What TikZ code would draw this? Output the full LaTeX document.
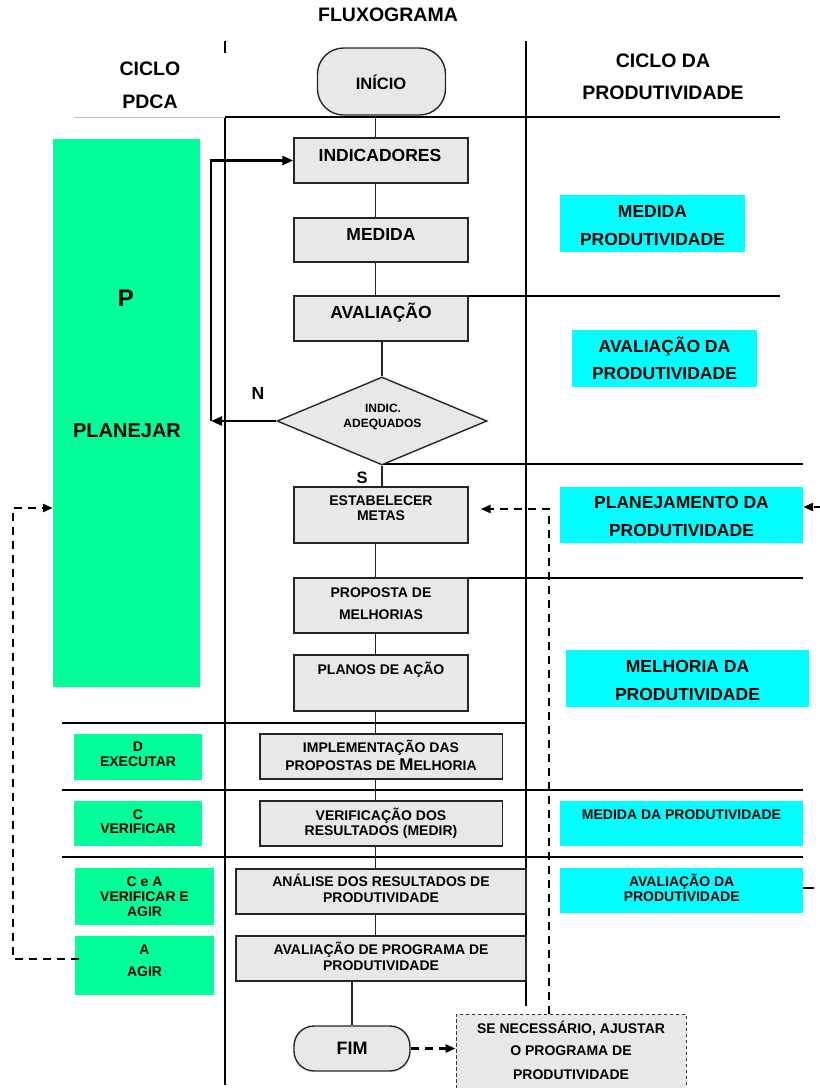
\documentclass[tikz,border=0pt]{standalone}
\usepackage{fontspec}
\setmainfont{Liberation Sans}
\usetikzlibrary{arrows.meta,shapes.geometric}
\definecolor{pgreen}{RGB}{0,255,153}
\definecolor{pcyan}{RGB}{0,255,255}
\definecolor{bgray}{RGB}{232,232,232}
\definecolor{lgray}{RGB}{190,190,190}
\tikzset{
 colline/.style={line width=1.3pt, draw=black},
 conn/.style={line width=1.3pt, draw=black!85},
 fbox/.style={draw=black!85, line width=1.4pt, fill=bgray, inner sep=0pt},
 gbox/.style={fill=pgreen, inner sep=0pt},
 cbox/.style={fill=pcyan, inner sep=0pt},
 txt/.style={inner sep=0pt, anchor=base, font=\bfseries\fontsize{#1}{#1}\selectfont, yshift={-0.344*#1pt}},
 txt/.default=14,
 boldloop/.style={line width=2.6pt, line join=miter, -{Triangle[length=11pt,width=9pt]}},
 dashline/.style={line width=2.4pt, dash pattern=on 8pt off 6pt, -{Triangle[length=10pt,width=8pt]}},
}
\begin{document}
\begin{tikzpicture}[x=1pt,y=-1pt]
\useasboundingbox (0,0) rectangle (820,1088);
% grid lines
\draw[colline] (225,41) -- (225,53);
\draw[colline] (225,117) -- (225,1085);
\draw[colline] (526,41) -- (526,1006);
\draw[lgray, line width=1pt] (74,117) -- (225,117);
\draw[colline] (225,117) -- (780,117);
\draw[colline] (468,296) -- (780,296);
\draw[colline] (382,464) -- (803,464);
\draw[colline] (468,578) -- (803,578);
\draw[colline] (62,723) -- (526,723);
\draw[colline] (62,790) -- (803,790);
\draw[colline] (62,857) -- (803,857);
% flow boxes
\node[fbox, rounded corners=26pt, minimum width=128pt, minimum height=67pt] (ini) at (381.5,81.5) {};
\node[fbox, minimum width=174pt, minimum height=45pt] (ind) at (381,160.5) {};
\node[fbox, minimum width=174pt, minimum height=44pt] (med) at (381,240) {};
\node[fbox, minimum width=174pt, minimum height=45pt] (ava) at (381,318.5) {};
\node[fbox, diamond, minimum width=210pt, minimum height=88pt] (dia) at (382,421) {};
\node[fbox, minimum width=174pt, minimum height=56pt] (est) at (381,515) {};
\node[fbox, minimum width=174pt, minimum height=55pt] (pro) at (381,605.5) {};
\node[fbox, minimum width=174pt, minimum height=56pt] (pla) at (381,683) {};
\node[fbox, minimum width=242.5pt, minimum height=45pt] (imp) at (381.25,756.5) {};
\node[fbox, minimum width=242.5pt, minimum height=45pt] (ver) at (381.25,823.5) {};
\node[fbox, minimum width=290pt, minimum height=45pt] (ana) at (381,891.5) {};
\node[fbox, minimum width=290pt, minimum height=45pt] (avp) at (381,958.5) {};
\node[fbox, rounded corners=20pt, minimum width=116pt, minimum height=45pt] (fim) at (352,1048.5) {};
\node[fbox, draw=black!80, line width=1pt, dash pattern=on 3.5pt off 2.5pt, minimum width=230pt, minimum height=81pt] (se) at (571,1054.5) {};
% green PDCA boxes
\node[gbox, minimum width=147pt, minimum height=548pt] (gP) at (126.5,413) {};
\node[gbox, minimum width=128pt, minimum height=46pt] (gD) at (138,757) {};
\node[gbox, minimum width=128pt, minimum height=45pt] (gC) at (138,823.5) {};
\node[gbox, minimum width=139pt, minimum height=57pt] (gCA) at (144.5,896.5) {};
\node[gbox, minimum width=139pt, minimum height=59pt] (gA) at (144.5,965.5) {};
% cyan boxes
\node[cbox, minimum width=185pt, minimum height=57pt] (cMed) at (652.5,223.5) {};
\node[cbox, minimum width=185pt, minimum height=57pt] (cAva) at (664.5,358.5) {};
\node[cbox, minimum width=243pt, minimum height=56pt] (cPla) at (681.5,515) {};
\node[cbox, minimum width=243pt, minimum height=57pt] (cMel) at (687.5,678.5) {};
\node[cbox, minimum width=243pt, minimum height=45pt] (cMed2) at (681.5,823.5) {};
\node[cbox, minimum width=243pt, minimum height=45pt] (cAva2) at (681.5,890.5) {};
% texts
\node[txt=19.5] (tTitle) at (388,14.5) {FLUXOGRAMA};
\node[txt=19.5] (tH1) at (150,69) {CICLO};
\node[txt=19.5] (tH2) at (150,102) {PDCA};
\node[txt=19.5] (tH3) at (663,61) {CICLO DA};
\node[txt=19.5] (tH4) at (663,93) {PRODUTIVIDADE};
\node[txt=16.5] (tIni) at (381,84) {INÍCIO};
\node[txt=17.5] (tInd) at (380,155.5) {INDICADORES};
\node[txt=17.5] (tMed) at (381,234.5) {MEDIDA};
\node[txt=17.5] (tAva) at (381,312.5) {AVALIAÇÃO};
\node[txt=17.5] (tN) at (258,393) {N};
\node[txt=16.5] (tS) at (362,477.5) {S};
\node[txt=12] (tDia1) at (383,408) {INDIC.};
\node[txt=12] (tDia2) at (382.5,423) {ADEQUADOS};
\node[txt] (tEst1) at (381,501) {ESTABELECER};
\node[txt] (tEst2) at (381,516) {METAS};
\node[txt] (tPro1) at (381,593) {PROPOSTA DE};
\node[txt] (tPro2) at (381,615) {MELHORIAS};
\node[txt] (tPla) at (381,670) {PLANOS DE AÇÃO};
\node[txt] (tImp1) at (381,748) {IMPLEMENTAÇÃO DAS};
\node[txt] (tImp2) at (381,766) {PROPOSTAS DE {\fontsize{17}{17}\selectfont M}ELHORIA};
\node[txt] (tVer1) at (381,816) {VERIFICAÇÃO DOS};
\node[txt] (tVer2) at (381,831) {RESULTADOS (MEDIR)};
\node[txt] (tAna1) at (381,882) {ANÁLISE DOS RESULTADOS DE};
\node[txt] (tAna2) at (381,898) {PRODUTIVIDADE};
\node[txt] (tAvp1) at (381,950) {AVALIAÇÃO DE PROGRAMA DE};
\node[txt] (tAvp2) at (381,966) {PRODUTIVIDADE};
\node[txt=18] (tFim) at (352,1048) {FIM};
\node[txt] (tSe1) at (571,1029) {SE NECESSÁRIO, AJUSTAR};
\node[txt] (tSe2) at (571,1051) {O PROGRAMA DE};
\node[txt] (tSe3) at (571,1075) {PRODUTIVIDADE};
\node[txt=24] (tP) at (126,298) {P};
\node[txt=20] (tPlan) at (127,431) {PLANEJAR};
\node[txt] (tD1) at (138,747) {D};
\node[txt] (tD2) at (138,762) {EXECUTAR};
\node[txt] (tC1) at (138,814.5) {C};
\node[txt] (tC2) at (138,829) {VERIFICAR};
\node[txt] (tCA1) at (144.5,882) {C e A};
\node[txt] (tCA2) at (144.5,897) {VERIFICAR E};
\node[txt] (tCA3) at (144.5,912) {AGIR};
\node[txt] (tA1) at (144.5,949.5) {A};
\node[txt] (tA2) at (144.5,972) {AGIR};
\node[txt=17.5] (tcM1) at (652.5,211) {MEDIDA};
\node[txt=17.5] (tcM2) at (652.5,239) {PRODUTIVIDADE};
\node[txt=17.5] (tcA1) at (664.5,346) {AVALIAÇÃO DA};
\node[txt=17.5] (tcA2) at (664.5,373) {PRODUTIVIDADE};
\node[txt=17.5] (tcP1) at (681.5,502) {PLANEJAMENTO DA};
\node[txt=17.5] (tcP2) at (681.5,530) {PRODUTIVIDADE};
\node[txt=17.5] (tcMe1) at (687.5,666.5) {MELHORIA DA};
\node[txt=17.5] (tcMe2) at (687.5,694) {PRODUTIVIDADE};
\node[txt] (tcMd) at (681.5,815) {MEDIDA DA PRODUTIVIDADE};
\node[txt] (tcAv1) at (681.7,882) {AVALIAÇÃO DA};
\node[txt] (tcAv2) at (681.7,897) {PRODUTIVIDADE};
% connectors
\coordinate (cx) at (375.6,0);
\draw[conn] (ini.south -| cx) -- (ind.north -| cx);
\draw[conn] (ind.south -| cx) -- (med.north -| cx);
\draw[conn] (med.south -| cx) -- (ava.north -| cx);
\draw[conn] (ava.south -| dia.north) -- (dia.north);
\draw[conn] (dia.south) -- (est.north -| dia.south);
\draw[conn] (est.south -| cx) -- (pro.north -| cx);
\draw[conn] (pro.south -| cx) -- (pla.north -| cx);
\draw[conn] (pla.south -| cx) -- (imp.north -| cx);
\draw[conn] (imp.south -| cx) -- (ver.north -| cx);
\draw[conn] (ver.south -| cx) -- (ana.north -| cx);
\draw[conn] (ana.south -| cx) -- (avp.north -| cx);
\draw[conn] (fim.north |- avp.south) -- (fim.north);
% N loop
\coordinate (nc) at (211,424);
\draw[boldloop] (dia.west) -- (dia.west -| nc);
\draw[boldloop] (dia.west -| nc) |- (ind.west);
% dashed loops
\coordinate (dlA) at (79,959);
\coordinate (dlC) at (13,508);
\draw[dashline] (dlA) -| (dlC) -- (gP.west |- dlC);
\coordinate (drC) at (549,509);
\draw[dashline, shorten >=12pt] (se.north -| drC) -- (drC) -- (est.east |- drC);
\coordinate (drR) at (822,507);
\draw[dashline] (drR) -- (cPla.east |- drR);
\draw[dashline] (fim.east) -- (se.west |- fim.east);
\coordinate (stub) at (814,888);
\draw[line width=2.6pt] (cAva2.east |- stub) -- (stub);
\end{tikzpicture}
\end{document}
